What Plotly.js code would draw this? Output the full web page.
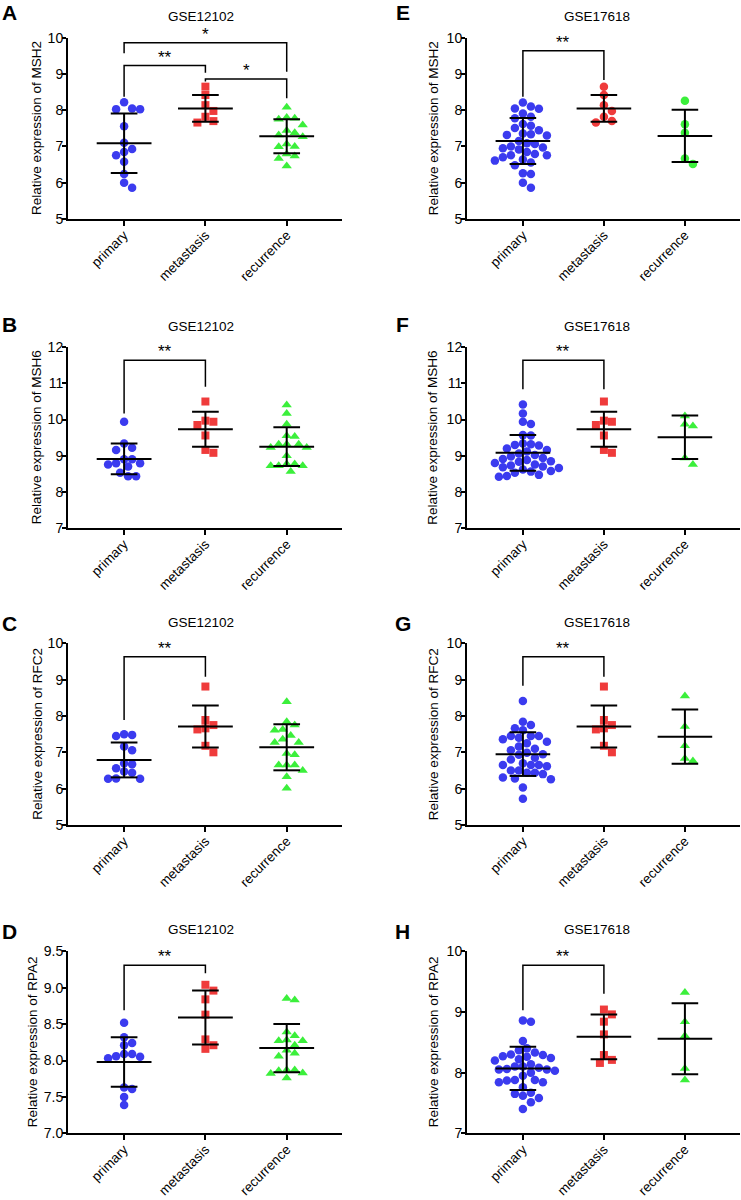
<!DOCTYPE html>
<html>
<head>
<meta charset="utf-8">
<script src="https://cdn.plot.ly/plotly-3.0.1.min.js"></script>
<style>html,body{margin:0;padding:0;background:#fff;}#chart{width:741px;height:1200px;}</style>
</head>
<body>
<div id="chart"></div>
<script>
// ---------------- DATA ----------------
const categories = ["primary", "metastasis", "recurrence"];

// GSE12102
const A_primary    = [8.22, 8.03, 8.03, 8.05, 7.56, 7.10, 6.85, 6.93, 6.76, 6.58, 6.24, 6.00, 5.86];
const A_metastasis = [8.65, 8.42, 8.14, 7.98, 7.82, 7.66, 7.70];
const A_recurrence = [8.08, 7.80, 7.75, 7.78, 7.59, 7.38, 7.27, 7.32, 7.44, 7.07, 7.00, 6.99, 6.79, 6.74, 6.67, 6.46];
const A_mean = [7.09, 8.05, 7.28];
const A_sd   = [0.82, 0.37, 0.47];

const B_primary    = [9.94, 9.34, 9.22, 9.16, 8.90, 8.90, 8.79, 8.76, 8.79, 8.70, 8.53, 8.43, 8.43];
const B_metastasis = [10.50, 9.94, 9.97, 9.85, 9.56, 9.08, 9.16];
const B_recurrence = [10.40, 10.17, 9.87, 9.55, 9.53, 9.32, 9.32, 9.32, 9.23, 9.23, 9.00, 8.77, 8.77, 8.72, 8.72, 8.72, 8.56];
const B_mean = [8.91, 9.73, 9.25];
const B_sd   = [0.425, 0.485, 0.535];

const C_primary    = [7.48, 7.45, 7.50, 7.06, 7.16, 6.70, 6.67, 6.47, 6.44, 6.56, 6.28, 6.27, 6.27];
const C_metastasis = [8.81, 7.89, 7.66, 7.63, 7.75, 7.18, 7.00];
const C_recurrence = [8.39, 7.84, 7.75, 7.61, 7.63, 7.46, 7.27, 7.27, 7.36, 6.93, 6.97, 6.65, 6.65, 6.65, 6.50, 6.33, 6.01];
const C_mean = [6.79, 7.71, 7.14];
const C_sd   = [0.48, 0.575, 0.635];

const D_primary    = [8.52, 8.24, 8.21, 8.32, 8.09, 8.06, 8.03, 8.05, 8.09, 7.63, 7.61, 7.50, 7.39];
const D_metastasis = [9.04, 8.96, 8.84, 8.63, 8.29, 8.16, 8.21];
const D_recurrence = [8.83, 8.85, 8.39, 8.34, 8.27, 8.28, 8.27, 8.21, 8.14, 8.10, 8.06, 7.87, 7.83, 7.82, 7.86, 7.87, 7.76];
const D_mean = [7.98, 8.59, 8.17];
const D_sd   = [0.34, 0.37, 0.33];

// GSE17618
const E_primary    = [8.21, 8.10, 8.05, 8.04, 7.91, 7.82, 7.78, 7.62, 7.57, 7.51, 7.45, 7.36, 7.34, 7.32, 7.30, 7.15, 7.09, 7.07, 7.00, 6.97, 6.95, 6.92, 6.85, 6.79, 6.76, 6.76, 6.70, 6.64, 6.61, 6.56, 6.48, 6.26, 6.24, 6.00, 5.86];
const E_metastasis = [8.65, 8.42, 8.14, 7.98, 7.82, 7.66, 7.70];
const E_recurrence = [8.26, 7.61, 7.38, 6.67, 6.52];
const E_mean = [7.15, 8.05, 7.29];
const E_sd   = [0.635, 0.37, 0.72];

const F_primary    = [10.42, 10.17, 9.94, 9.88, 9.57, 9.56, 9.34, 9.32, 9.30, 9.28, 9.20, 9.16, 9.12, 9.06, 9.02, 8.98, 8.94, 8.91, 8.88, 8.85, 8.83, 8.80, 8.76, 8.73, 8.70, 8.68, 8.66, 8.62, 8.58, 8.56, 8.53, 8.47, 8.44, 8.42];
const F_metastasis = [10.50, 9.94, 9.97, 9.85, 9.56, 9.08, 9.16];
const F_recurrence = [10.10, 9.87, 9.82, 8.76, 8.94];
const F_mean = [9.08, 9.73, 9.51];
const F_sd   = [0.495, 0.485, 0.60];

const G_primary    = [8.41, 7.84, 7.75, 7.66, 7.61, 7.45, 7.45, 7.45, 7.40, 7.36, 7.29, 7.25, 7.16, 7.10, 7.06, 6.99, 6.95, 6.93, 6.85, 6.80, 6.70, 6.65, 6.65, 6.65, 6.62, 6.50, 6.50, 6.44, 6.44, 6.40, 6.31, 6.28, 6.26, 6.03, 5.72];
const G_metastasis = [8.81, 7.89, 7.66, 7.63, 7.75, 7.18, 7.00];
const G_recurrence = [8.55, 7.71, 7.18, 6.76, 6.83];
const G_mean = [6.95, 7.71, 7.43];
const G_sd   = [0.60, 0.575, 0.745];

const H_primary    = [8.86, 8.84, 8.52, 8.40, 8.37, 8.33, 8.30, 8.29, 8.27, 8.26, 8.24, 8.22, 8.20, 8.14, 8.10, 8.10, 8.08, 8.06, 8.05, 8.05, 8.03, 8.00, 7.95, 7.88, 7.88, 7.87, 7.84, 7.84, 7.76, 7.67, 7.65, 7.62, 7.58, 7.51, 7.40];
const H_metastasis = [9.04, 8.96, 8.84, 8.63, 8.29, 8.16, 8.21];
const H_recurrence = [9.32, 8.84, 8.61, 8.07, 7.88];
const H_mean = [8.07, 8.59, 8.56];
const H_sd   = [0.355, 0.37, 0.585];

// significance brackets: [group from, group to, top, left leg end, right leg end, label]
const A_brackets = [[0, 2, 9.86, 9.57, 9.06, "*"], [0, 1, 9.23, 8.37, 9.03, "**"], [1, 2, 8.86, 8.79, 8.33, "*"]];
const B_brackets = [[0, 1, 11.64, 10.17, 10.91, "**"]];
const C_brackets = [[0, 1, 9.63, 7.89, 9.08, "**"]];
const D_brackets = [[0, 1, 9.31, 8.69, 9.20, "**"]];
const E_brackets = [[0, 1, 9.64, 8.37, 8.83, "**"]];
const F_brackets = [[0, 1, 11.64, 10.84, 10.84, "**"]];
const G_brackets = [[0, 1, 9.63, 8.83, 9.08, "**"]];
const H_brackets = [[0, 1, 9.77, 9.03, 9.30, "**"]];

// ---------------- PANELS ----------------
const SYM3 = ["circle", "square", "triangle-up"];
const SYMC = ["circle", "circle", "circle"];
const panels = [
  {letter: "A", title: "GSE12102", gene: "MSH2", col: 0, row: 0, range: [5, 10], dtick: 1, fmt: "d", groups: [A_primary, A_metastasis, A_recurrence], mean: A_mean, sd: A_sd, sym: SYM3, br: A_brackets, ytx: 36.7},
  {letter: "B", title: "GSE12102", gene: "MSH6", col: 0, row: 1, range: [7, 12], dtick: 1, fmt: "d", groups: [B_primary, B_metastasis, B_recurrence], mean: B_mean, sd: B_sd, sym: SYM3, br: B_brackets, ytx: 36.7},
  {letter: "C", title: "GSE12102", gene: "RFC2", col: 0, row: 2, range: [5, 10], dtick: 1, fmt: "d", groups: [C_primary, C_metastasis, C_recurrence], mean: C_mean, sd: C_sd, sym: SYM3, br: C_brackets, ytx: 36.7},
  {letter: "D", title: "GSE12102", gene: "RPA2", col: 0, row: 3, range: [7, 9.5], dtick: 0.5, fmt: ".1f", groups: [D_primary, D_metastasis, D_recurrence], mean: D_mean, sd: D_sd, sym: SYM3, br: D_brackets, ytx: 32},
  {letter: "E", title: "GSE17618", gene: "MSH2", col: 1, row: 0, range: [5, 10], dtick: 1, fmt: "d", groups: [E_primary, E_metastasis, E_recurrence], mean: E_mean, sd: E_sd, sym: SYMC, br: E_brackets, ytx: 433},
  {letter: "F", title: "GSE17618", gene: "MSH6", col: 1, row: 1, range: [7, 12], dtick: 1, fmt: "d", groups: [F_primary, F_metastasis, F_recurrence], mean: F_mean, sd: F_sd, sym: SYM3, br: F_brackets, ytx: 433},
  {letter: "G", title: "GSE17618", gene: "RFC2", col: 1, row: 2, range: [5, 10], dtick: 1, fmt: "d", groups: [G_primary, G_metastasis, G_recurrence], mean: G_mean, sd: G_sd, sym: SYM3, br: G_brackets, ytx: 433},
  {letter: "H", title: "GSE17618", gene: "RPA2", col: 1, row: 3, range: [7, 10], dtick: 1, fmt: "d", groups: [H_primary, H_metastasis, H_recurrence], mean: H_mean, sd: H_sd, sym: SYM3, br: H_brackets, ytx: 433}
];

const W = 741, HGT = 1200;
const colX = [[68, 342], [467, 740]];
const rowY = [[37.7, 219], [347.3, 528], [643.3, 825], [951.3, 1133.3]];
const titleX = [201, 597];
const titleY = [16.7, 326, 622.7, 929];
const letterX = [9.5, 402.5];
const letterY = [12.5, 324, 623, 932];
const XR = [-0.69, 2.68];
const COLORS = ["#3b3bef", "#ef3b3b", "#3bef3b"];
const FONT = "Liberation Sans, Arial, Helvetica, sans-serif";
const MEAN_HW = 0.337, CAP_HW = 0.164;

function px(x) { return x / W; }
function py(y) { return 1 - y / HGT; }

// simple beeswarm: spread overlapping points sideways
function swarm(vals, pxX, pxY, dist, step) {
  const idx = vals.map((v, i) => i).sort((a, b) => vals[b] - vals[a]);
  const placed = [], out = new Array(vals.length);
  for (const i of idx) {
    const y = vals[i] * pxY;
    let chosen = 0;
    for (let k = 0; k < 80; k++) {
      const m = Math.ceil(k / 2) * (k % 2 ? 1 : -1);
      const x = m * step;
      let ok = true;
      for (const p of placed) {
        const dx = x - p.x, dy = y - p.y;
        if (dx * dx + dy * dy < dist * dist) { ok = false; break; }
      }
      if (ok) { chosen = x; break; }
    }
    placed.push({x: chosen, y: y});
    out[i] = chosen / pxX;
  }
  return out;
}

const traces = [];
const layout = {
  width: W, height: HGT, margin: {l: 0, r: 0, t: 0, b: 0},
  paper_bgcolor: "#fff", plot_bgcolor: "rgba(0,0,0,0)", showlegend: false,
  font: {family: FONT, color: "#000"},
  annotations: []
};

panels.forEach((p, n) => {
  const k = n + 1;
  const xa = "x" + (k === 1 ? "" : k), ya = "y" + (k === 1 ? "" : k);
  const xd = colX[p.col], yd = rowY[p.row];
  const pxX = (xd[1] - xd[0]) / (XR[1] - XR[0]);
  const pxY = (yd[1] - yd[0]) / (p.range[1] - p.range[0]);

  layout["xaxis" + (k === 1 ? "" : k)] = {
    domain: [px(xd[0]), px(xd[1])], anchor: ya, range: XR,
    tickmode: "array", tickvals: [0, 1, 2], ticktext: categories, tickangle: -45,
    showgrid: false, zeroline: false, showline: true, linewidth: 2, linecolor: "#000",
    ticks: "outside", ticklen: 5, tickwidth: 2, tickcolor: "#000", ticklabelstandoff: -4,
    tickfont: {family: FONT, size: 13.5, color: "#000"}, fixedrange: true
  };
  layout["yaxis" + (k === 1 ? "" : k)] = {
    domain: [py(yd[1]), py(yd[0])], anchor: xa, range: p.range, dtick: p.dtick, tick0: p.range[0],
    tickformat: p.fmt,
    showgrid: false, zeroline: false, showline: true, linewidth: 2, linecolor: "#000",
    ticks: "outside", ticklen: 4, tickwidth: 2, tickcolor: "#000", ticklabelstandoff: -4,
    tickfont: {family: FONT, size: 14, color: "#000"}, fixedrange: true
  };

  // points
  p.groups.forEach((g, gi) => {
    const off = swarm(g, pxX, pxY, 8, 4);
    traces.push({
      type: "scatter", mode: "markers", xaxis: xa, yaxis: ya,
      x: g.map((v, i) => gi + off[i]), y: g,
      marker: {symbol: p.sym[gi], size: p.sym[gi] === "triangle-up" ? 9 : (p.sym[gi] === "square" ? 8 : 8.5), color: COLORS[gi], line: {width: 0}},
      hoverinfo: "y", cliponaxis: false
    });
  });

  // mean and SD bars
  const lx = [], ly = [];
  p.mean.forEach((m, gi) => {
    const s = p.sd[gi];
    lx.push(gi - MEAN_HW, gi + MEAN_HW, null, gi, gi, null, gi - CAP_HW, gi + CAP_HW, null, gi - CAP_HW, gi + CAP_HW, null);
    ly.push(m, m, null, m - s, m + s, null, m + s, m + s, null, m - s, m - s, null);
  });
  traces.push({type: "scatter", mode: "lines", xaxis: xa, yaxis: ya, x: lx, y: ly,
    line: {color: "#000", width: 2}, hoverinfo: "skip", cliponaxis: false});

  // significance brackets
  const bx = [], by = [];
  p.br.forEach(b => {
    bx.push(b[0], b[0], b[1], b[1], null);
    by.push(b[3], b[2], b[2], b[4], null);
    layout.annotations.push({xref: xa, yref: ya, x: (b[0] + b[1]) / 2, y: b[2], text: b[5],
      showarrow: false, yanchor: "bottom", xanchor: "center", yshift: -3,
      font: {family: FONT, size: 17, color: "#000"}});
  });
  traces.push({type: "scatter", mode: "lines", xaxis: xa, yaxis: ya, x: bx, y: by,
    line: {color: "#000", width: 1.5}, hoverinfo: "skip", cliponaxis: false});

  // panel title
  layout.annotations.push({xref: "paper", yref: "paper", x: px(titleX[p.col]), y: py(titleY[p.row]),
    text: p.title, showarrow: false, xanchor: "center", yanchor: "middle",
    font: {family: FONT, size: 13.5, color: "#000"}});
  // panel letter
  layout.annotations.push({xref: "paper", yref: "paper", x: px(letterX[p.col]), y: py(letterY[p.row]),
    text: "<b>" + p.letter + "</b>", showarrow: false, xanchor: "center", yanchor: "middle",
    font: {family: FONT, size: 21, color: "#000"}});
  // y-axis title
  layout.annotations.push({xref: "paper", yref: "paper", x: px(p.ytx), y: py((yd[0] + yd[1]) / 2),
    text: "Relative expression of " + p.gene, textangle: -90, showarrow: false,
    xanchor: "center", yanchor: "middle", font: {family: FONT, size: 13.5, color: "#000"}});
});

Plotly.newPlot("chart", traces, layout, {displayModeBar: false, staticPlot: true});
</script>
</body>
</html>
